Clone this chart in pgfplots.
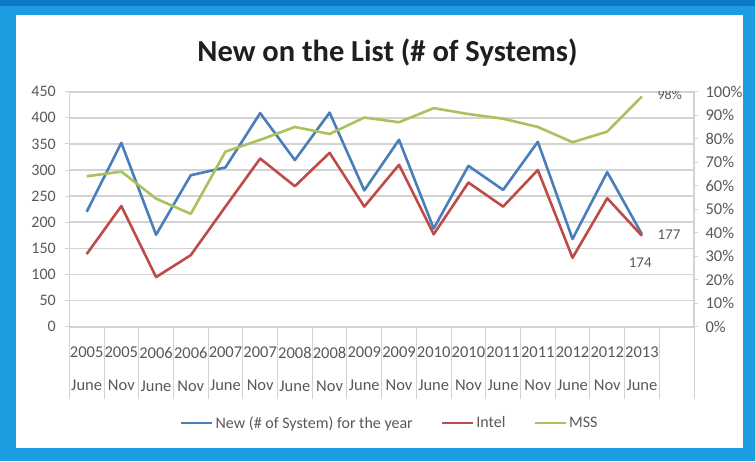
\documentclass[border=0pt]{standalone}
\usepackage{pgfplots}
\pgfplotsset{compat=1.18}
\usepackage{fontspec}
\setmainfont{Carlito}
\definecolor{frameblue}{HTML}{1C9DE2}
\definecolor{framedark}{HTML}{0B78C6}
\definecolor{sblue}{HTML}{4A7EBB}
\definecolor{sred}{HTML}{BE4B48}
\definecolor{sgreen}{HTML}{A9C25D}
\definecolor{lbl}{HTML}{595959}
\definecolor{gridc}{HTML}{D3D3D3}
\pgfplotstableread{
i new intel mss
0 220 139 64
1 352 231 66
2 176 95 54.5
3 290 137 48
4 305 230 74.5
5 409 322 79.5
6 319 269 85
7 410 333 82
8 261 230 89
9 358 310 87
10 188 177 93
11 308 276 90.5
12 262 230 88.5
13 354 300 85
14 168 132 78.5
15 296 246 83
16 177 174 98
}\datatable
\begin{document}
\begin{tikzpicture}[x=1pt,y=1pt]
\useasboundingbox (0,0) rectangle (755,461);
\fill[frameblue] (0,0) rectangle (755,461);
\fill[framedark] (0,455) rectangle (755,461);
\fill[white] (16,13) rectangle (743,446);
\node[anchor=base, font=\fontsize{30.5}{36}\selectfont\bfseries, text=black!88] at (387.5,399.5) {New on the List (\# of Systems)};
\begin{axis}[
  at={(69.3pt,134.3pt)}, anchor=south west,
  scale only axis, width=624.7pt, height=235pt,
  xmin=-0.5, xmax=17.5, ymin=0, ymax=450,
  ytick={0,50,...,450},
  axis y line*=left, axis x line*=bottom,
  axis line style={draw=gridc, line width=1.2pt},
  ymajorgrids, grid style={draw=gridc, line width=1.6pt},
  tick align=outside, major tick length=4pt,
  ytick style={draw=gridc, line width=1pt},
  xtick={0,...,16},
  xtick style={draw=none},
  xticklabels={2005\\[13pt]June,2005\\[13pt]Nov,2006\\[13pt]June,2006\\[13pt]Nov,2007\\[13pt]June,2007\\[13pt]Nov,2008\\[13pt]June,2008\\[13pt]Nov,2009\\[13pt]June,2009\\[13pt]Nov,2010\\[13pt]June,2010\\[13pt]Nov,2011\\[13pt]June,2011\\[13pt]Nov,2012\\[13pt]June,2012\\[13pt]Nov,2013\\[13pt]June},
  xticklabel style={align=center, font=\fontsize{16.5}{20}\selectfont, text=lbl, inner xsep=0pt, yshift=-13pt},
  yticklabel style={font=\fontsize{16}{19}\selectfont, text=lbl, xshift=-6pt},
  extra x ticks={-0.5,0.5,...,16.5,17.5},
  extra x tick labels={},
  extra x tick style={grid=none, major tick length=72pt, xtick style={draw=gridc, line width=1pt}},
  /pgf/number format/assume math mode=true,
  legend style={at={(0.513,-0.41)}, anchor=center, draw=none, fill=none,
    font=\fontsize{16}{19}\selectfont, text=lbl, legend columns=-1,
    /tikz/every even column/.append style={column sep=26pt},
    /tikz/every odd column/.append style={column sep=0pt},
    legend cell align=left, inner sep=0pt},
  legend image code/.code={\draw[#1] (0pt,0pt) -- (31pt,0pt);},
]
\addplot[sblue, line width=2.6pt, line join=round] table[x=i,y=new] {\datatable};
\addlegendentry{New (\# of System) for the year}
\addplot[sred, line width=2.6pt, line join=round] table[x=i,y=intel] {\datatable};
\addlegendentry{Intel}
\addlegendimage{sgreen, line width=2.6pt}
\addlegendentry{MSS}
\node[anchor=west, font=\fontsize{15}{18}\selectfont, text=lbl] at (axis cs:16.35,177) {177};
\node[anchor=center, font=\fontsize{15}{18}\selectfont, text=lbl] at (axis cs:15.95,123) {174};
\end{axis}
\begin{axis}[
  at={(69.3pt,134.3pt)}, anchor=south west,
  scale only axis, width=624.7pt, height=235pt,
  xmin=-0.5, xmax=17.5, ymin=0, ymax=100,
  ytick={0,10,...,100},
  axis y line*=right, axis x line=none,
  axis line style={draw=gridc, line width=1.2pt},
  tick align=outside, major tick length=4pt,
  ytick style={draw=gridc, line width=1pt},
  /pgf/number format/assume math mode=true,
  yticklabel={\pgfmathprintnumber{\tick}\%},
  yticklabel style={font=\fontsize{16.5}{19}\selectfont, text=lbl, xshift=4pt},
]
\addplot[sgreen, line width=2.6pt, line join=round] table[x=i,y=mss] {\datatable};
\node[anchor=west, font=\fontsize{14}{17}\selectfont, text=lbl] at (axis cs:16.35,98.5) {98\%};
\end{axis}
\end{tikzpicture}
\end{document}
